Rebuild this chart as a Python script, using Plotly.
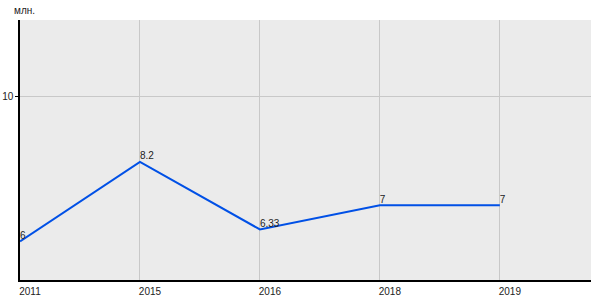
import plotly.graph_objects as go

years = ["2011", "2015", "2016", "2018", "2019"]
values = [6, 8.2, 6.33, 7, 7]
labels = ["6", "8.2", "6.33", "7", "7"]
unit = "млн."

fig = go.Figure()
fig.add_trace(go.Scatter(
    x=years, y=values, mode="lines+text", text=labels,
    textposition="top right",
    textfont=dict(family="Liberation Sans, Arial", size=10, color="#222"),
    line=dict(color="#0050E6", width=2),
    cliponaxis=False, hoverinfo="skip",
))

fig.update_layout(
    width=600, height=300,
    margin=dict(l=20, r=9, t=20, b=20, autoexpand=False),
    paper_bgcolor="white", plot_bgcolor="#EBEBEB",
    showlegend=False,
    font=dict(family="Liberation Sans, Arial", size=10, color="#222"),
    xaxis=dict(
        type="category", range=[0, 4.76], automargin=False,
        showgrid=True, gridcolor="#C8C8C8", gridwidth=1,
        showline=True, linecolor="black", linewidth=1.5,
        ticks="", ticklabelshift=10, ticklabelstandoff=1,
        zeroline=False,
    ),
    yaxis=dict(
        range=[4.93, 12.13], tickvals=[10], ticktext=["10"], automargin=False,
        showgrid=True, gridcolor="#C8C8C8", gridwidth=1,
        showline=True, linecolor="black", linewidth=1.5,
        ticks="outside", ticklen=3, tickcolor="black",
        zeroline=False,
    ),
    annotations=[dict(
        text=unit, xref="paper", yref="paper",
        x=-8 / 571, y=1, xanchor="left", yanchor="bottom",
        yshift=2, showarrow=False,
        font=dict(family="Liberation Sans, Arial", size=10, color="#222"),
    )],
)

fig.write_html("out.html")
